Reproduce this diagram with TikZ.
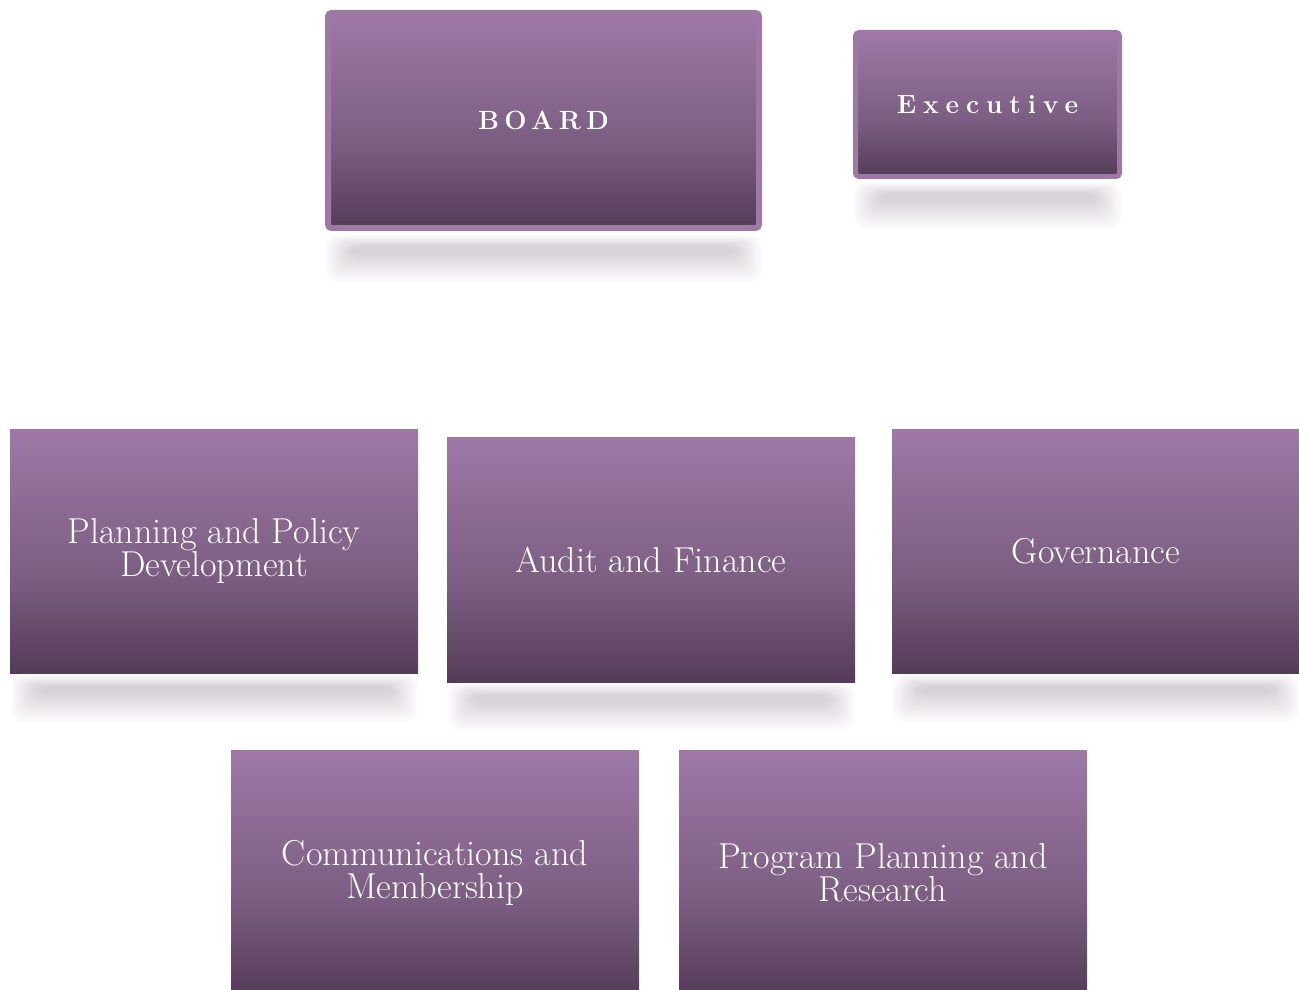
\documentclass[tikz,border=0pt]{standalone}
\usepackage{fontspec}
\setmainfont{Latin Modern Roman}
\usetikzlibrary{fit}
\usetikzlibrary{backgrounds}

\definecolor{boxtop}{RGB}{158,121,166}
\definecolor{boxmid}{RGB}{124,94,130}
\definecolor{boxbot}{RGB}{84,60,88}
\definecolor{shadowc}{RGB}{90,65,95}
\pgfdeclareverticalshading{boxshade}{100bp}{color(0bp)=(boxbot); color(25bp)=(boxbot); color(45bp)=(boxmid); color(75bp)=(boxtop); color(100bp)=(boxtop)}
\newcommand\boxfont{\fontsize{20.5pt}{18.6pt}\selectfont\lineskiplimit-20pt\relax}

\begin{document}
\begin{tikzpicture}[x=0.02cm, y=-0.02cm]
            \tikzstyle{orgbox} = [shading=boxshade, inner sep=0pt]
            \tikzstyle{rimbox} = [orgbox, draw=boxtop, rounded corners=2pt]
            \tikzstyle{boxtext} = [text=white, align=center, font=\boxfont]
            \tikzstyle{spaced} = [text=white, font=\fontsize{15pt}{16pt}\selectfont\bfseries]
            \path[use as bounding box, clip] (0, 0) rectangle (1299, 990);
            % top row
            \node[rimbox, line width=0.12cm, fit={(328, 13) (759, 228)}] (board) {};
            \node[rimbox, line width=0.1cm, fit={(855.5, 32.5) (1119.5, 176.5)}] (exec) {};
            \node[spaced] (boardtxt) at (board) {\addfontfeatures{LetterSpace=20}BOARD};
            \node[spaced] (exectxt) at (exec) {\addfontfeatures{LetterSpace=26}Executive};
            % committees
            \node[orgbox, fit={(10, 429) (418, 673)}] (plan) {};
            \node[orgbox, fit={(447, 437) (855, 682)}] (audit) {};
            \node[orgbox, fit={(892, 429) (1300, 673)}] (gov) {};
            \node[orgbox, fit={(231, 750) (639, 996)}] (comm) {};
            \node[orgbox, fit={(679, 750) (1087, 996)}] (prog) {};
            \node[boxtext] (plantxt) at (plan) {Planning and Policy\\Development};
            \node[boxtext] (audittxt) at (audit) {Audit and Finance};
            \node[boxtext] (govtxt) at (gov) {Governance};
            \node[boxtext] (commtxt) at (comm) {Communications and\\Membership};
            \node[boxtext] (progtxt) at (prog) {Program Planning and\\Research};
            % soft shadows under the boxes
            \begin{scope}[on background layer]
                \foreach \n/\d in {board/4, exec/3, plan/1, audit/1, gov/1} {
                    \foreach \k in {0,...,29}
                        \fill[shadowc, opacity=0.008, rounded corners=6pt]
                            ([xshift=(0.9*\k)*0.02cm, yshift=-(\d+0.4*\k)*0.02cm]\n.south west) rectangle
                            ([xshift=-(0.9*\k)*0.02cm, yshift=-(\d+48-1.0*\k)*0.02cm]\n.south east);
                }
            \end{scope}
        \end{tikzpicture}
\end{document}
